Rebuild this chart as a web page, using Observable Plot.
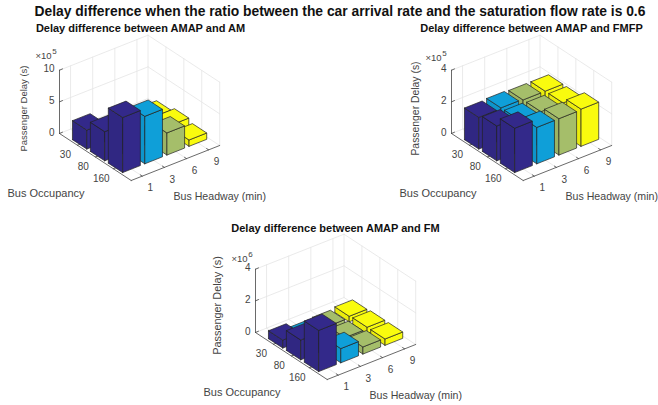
<!DOCTYPE html>
<html><head><meta charset="utf-8">
<script src="https://cdn.jsdelivr.net/npm/d3@7"></script>
<script src="https://cdn.jsdelivr.net/npm/@observablehq/plot@0.6"></script>
<style>
html,body{margin:0;padding:0;background:#fff}
#title{font:bold 13.85px "Liberation Sans",Arial,sans-serif;color:#111;text-align:center;height:18px;line-height:22px;width:680px;white-space:nowrap;margin-left:0}
svg{display:block}
</style></head><body>
<div id="title">Delay difference when the ratio between the car arrival rate and the saturation flow rate is 0.6</div>
<div id="chart"></div>
<script>
const headways = ["1","3","6","9"];
const occupancies = ["30","80","160"];
// rows: occupancy 30, 80, 160; columns: headway 1,3,6,9
const amValues   = [[3.0,1.5,1.2,0.9],[4.6,3.0,1.5,1.5],[8.7,7.5,3.5,1.0]];
const fmfpValues = [[2.0,2.05,2.0,2.0],[2.2,2.05,2.0,2.0],[2.8,2.3,2.3,2.35]];
const fmValues   = [[0.5,0.2,0.25,0.35],[1.25,0.3,0.3,0.4],[2.6,0.9,0.45,0.4]];
const headwayColors = ["#33298a","#0f9fd8","#a5be6a","#f9fb0e"];
const panels = [
  {title:"Delay difference between AMAP and AM",   values:amValues,  zMax:10, zTicks:[0,5,10], exp:"5", ox:59,  oy:133, tx:140, ty:28,  yl:[23,108,9.5],  e:[35,55]},
  {title:"Delay difference between AMAP and FMFP", values:fmfpValues,zMax:4,  zTicks:[0,2,4],  exp:"5", ox:451, oy:133, tx:531, ty:28,  yl:[415,108,10.4],e:[425,57]},
  {title:"Delay difference between AMAP and FM",   values:fmValues,  zMax:4,  zTicks:[0,2,4],  exp:"6", ox:255, oy:332, tx:335, ty:228, yl:[217,305,10.9],e:[231,258]}
];
const H = [88.5,-35], O = [71.7,47], Zh = 63.3;
const shade = (c,k)=>{const r=d3.rgb(c);return d3.rgb(r.r*k,r.g*k,r.b*k).formatHex();};

const faces=[], grid=[], axes=[], labels=[];
let fid=0;
for (const p of panels){
  const P=(h,o,z)=>({ // h in 0.5..4.5, o in 0..4, z in data units
    x:p.ox+(h-0.5)/4*H[0]+o/4*O[0],
    y:p.oy+(h-0.5)/4*H[1]+o/4*O[1]-z/p.zMax*Zh});
  const seg=(arr,a,b)=>{const id=fid++;arr.push({...a,id},{...b,id});};
  for(const h of [1,2,3,4]){seg(grid,P(h,0,0),P(h,4,0));seg(grid,P(h,0,0),P(h,0,p.zMax));}
  for(const o of [1,2,3]){seg(grid,P(.5,o,0),P(4.5,o,0));seg(grid,P(4.5,o,0),P(4.5,o,p.zMax));}
  for(const z of p.zTicks){seg(grid,P(.5,0,z),P(4.5,0,z));seg(grid,P(4.5,0,z),P(4.5,4,z));}
  seg(grid,P(4.5,0,0),P(4.5,0,p.zMax));
  seg(grid,P(4.5,4,0),P(4.5,4,p.zMax));
  seg(axes,P(.5,0,0),P(.5,0,p.zMax));
  seg(axes,P(.5,0,0),P(.5,4,0));
  seg(axes,P(.5,4,0),P(4.5,4,0));
  for(const z of p.zTicks){const a=P(.5,0,z);seg(axes,a,{x:a.x+3,y:a.y-1.3});
    labels.push({x:a.x-5,y:a.y-1,text:String(z),anchor:"end",size:10});}
  occupancies.forEach((t,i)=>{const a=P(.5,i+1,0);seg(axes,a,{x:a.x+2.6,y:a.y-1});
    labels.push({x:a.x-12,y:a.y+10,text:t,anchor:"middle",size:10});});
  headways.forEach((t,i)=>{const a=P(i+1,4,0);seg(axes,a,{x:a.x-2,y:a.y-1.3});
    labels.push({x:a.x+8,y:a.y+12,text:t,anchor:"middle",size:10});});
  labels.push({x:p.tx,y:p.ty,text:p.title,anchor:"middle",size:11,bold:true});
  labels.push({x:p.yl[0],y:p.yl[1],text:"Passenger Delay (s)",anchor:"middle",size:p.yl[2],rotate:-90});
  labels.push({x:p.e[0],y:p.e[1],text:"×10",anchor:"start",size:9.5});
  labels.push({x:p.e[0]+16.8,y:p.e[1]-4,text:p.exp,anchor:"start",size:8});
  labels.push({x:p.ox-52,y:p.oy+59.5,text:"Bus Occupancy",anchor:"start",size:11});
  labels.push({x:p.ox+114,y:p.oy+63,text:"Bus Headway (min)",anchor:"start",size:10.6});
  for(let o=0;o<3;o++) for(let h=3;h>=0;h--){
    const z=p.values[o][h], c=headwayColors[h];
    const x0=h+1-.4,x1=h+1+.4,y0=o+1-.4,y1=o+1+.4;
    const poly=(pts,color)=>{const id=fid++;[...pts,pts[0]].forEach(q=>faces.push({...q,id,color}));};
    poly([P(x0,y0,0),P(x0,y1,0),P(x0,y1,z),P(x0,y0,z)],shade(c,.94));
    poly([P(x0,y1,0),P(x1,y1,0),P(x1,y1,z),P(x0,y1,z)],c);
    poly([P(x0,y0,z),P(x0,y1,z),P(x1,y1,z),P(x1,y0,z)],c);
  }
}
const textGroups=d3.groups(labels,d=>`${d.anchor}|${!!d.bold}|${d.rotate||0}`);
const textMarks=textGroups.map(([k,rows])=>Plot.text(rows,{
  x:"x",y:"y",text:"text",fontSize:"size",
  textAnchor:rows[0].anchor,rotate:rows[0].rotate||0,
  fill:rows[0].bold?"#111":"#444",fontWeight:rows[0].bold?"bold":"normal",lineAnchor:"middle"}));
const chart=Plot.plot({
  width:658,height:387,margin:0,
  x:{domain:[0,658],range:[0,658],axis:null},
  y:{domain:[18,405],range:[0,387],axis:null},
  color:{type:"identity"},
  style:{fontFamily:'"Liberation Sans",Arial,sans-serif',background:"#fff"},
  marks:[
    Plot.line(grid,{x:"x",y:"y",z:"id",stroke:"#e4e4e4",strokeWidth:.8}),
    Plot.line(axes,{x:"x",y:"y",z:"id",stroke:"#444",strokeWidth:.8}),
    Plot.line(faces,{x:"x",y:"y",z:"id",fill:"color",stroke:"#222",strokeWidth:.7}),
    ...textMarks
  ]
});
document.getElementById("chart").appendChild(chart);
</script></body></html>
